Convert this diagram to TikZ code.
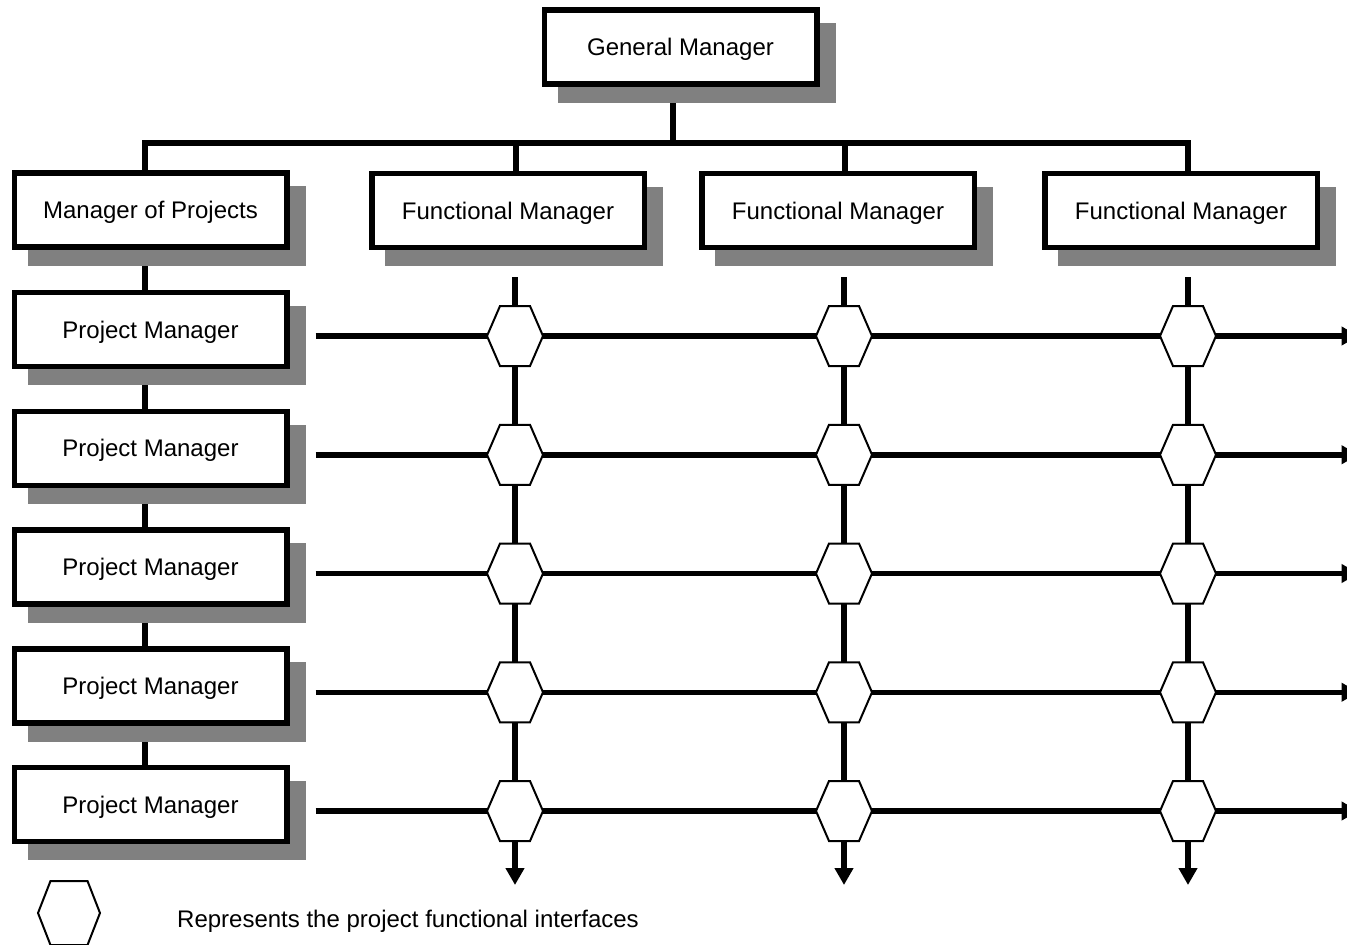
\documentclass[tikz,border=0pt]{standalone}
\usepackage{fontspec}
\setmainfont{Liberation Sans}
\usetikzlibrary{arrows.meta,calc}
\pgfdeclarelayer{lines}
\pgfdeclarelayer{shadows}
\pgfsetlayers{lines,shadows,main}
\definecolor{shadowgray}{HTML}{808080}
\begin{document}
\begin{tikzpicture}[x=1pt,y=-1pt,
  box/.style={draw, line width=5.5pt, fill=white, minimum width=272.5pt, minimum height=74pt, inner sep=0pt, text depth=0pt, font=\fontsize{24}{28}\selectfont},
  conn/.style={line width=5.5pt, line cap=butt, line join=miter},
  arr/.style={conn, -{Triangle[length=17pt,width=18pt]}},
  hexa/.style={draw, line width=2pt, fill=white, line join=miter},
  legendtext/.style={font=\fontsize{24}{28}\selectfont, anchor=base west, inner sep=0pt}
]
\useasboundingbox (0,0) rectangle (1347,945);
\clip (0,0) rectangle (1347,945);

% boxes
\node[box] (gm) at (680.5,47) {General Manager};
\node[box] (mop) at (150.5,210) {Manager of Projects};
\node[box] (fm1) at (508,210.5) {Functional Manager};
\node[box] (fm2) at (838,210.5) {Functional Manager};
\node[box] (fm3) at (1181,210.5) {Functional Manager};
\foreach \i/\y in {1/329.5,2/448.25,3/567,4/685.75,5/804.5}
  \node[box] (pm\i) at (150.5,\y) {Project Manager};

% shadows
\begin{pgfonlayer}{shadows}
\foreach \n in {gm,mop,fm1,fm2,fm3,pm1,pm2,pm3,pm4,pm5}
  \fill[shadowgray] ([shift={(16,16)}]\n.north west) rectangle ([shift={(16,16)}]\n.south east);
\end{pgfonlayer}

% connectors
\begin{pgfonlayer}{lines}
\coordinate (j0) at (145,143);
\coordinate (jg) at (673,143);
\coordinate (j1) at (516,143);
\coordinate (j2) at (845,143);
\coordinate (j3) at (1188,143);
\draw[conn] (mop.north -| j0) -- (j0) -- (j3) -- (j3 |- fm3.north);
\draw[conn] (gm.south -| jg) -- (jg);
\draw[conn] (j1) -- (j1 |- fm1.north);
\draw[conn] (j2) -- (j2 |- fm2.north);
\draw[conn] (mop.south -| j0) -- (pm5.north -| j0);
\foreach \i/\x in {1/515,2/844,3/1188} {
  \coordinate (t\i) at (\x,277);
  \coordinate (e\i) at (\x,885);
  \draw[arr] (t\i) -- (e\i);
}
\foreach \i in {1,...,5}
  \draw[arr] ($(pm\i.east)+(26,6.5)$) -- ($(pm\i.east)+(1069,6.5)$);
\end{pgfonlayer}

% interface hexagons
\foreach \x in {515,844,1188}
  \foreach \y in {336,454.75,573.5,692.25,811}
    \draw[hexa] (\x,\y) ++(-28,0) -- ++(13,-30) -- ++(30,0) -- ++(13,30) -- ++(-13,30) -- ++(-30,0) -- cycle;

% legend
\draw[hexa] (69,913) ++(-31,0) -- ++(12.5,-32) -- ++(37,0) -- ++(12.5,32) -- ++(-12.5,32) -- ++(-37,0) -- cycle;
\node[legendtext] (legend) at (177,927) {Represents the project functional interfaces};
\end{tikzpicture}
\end{document}
